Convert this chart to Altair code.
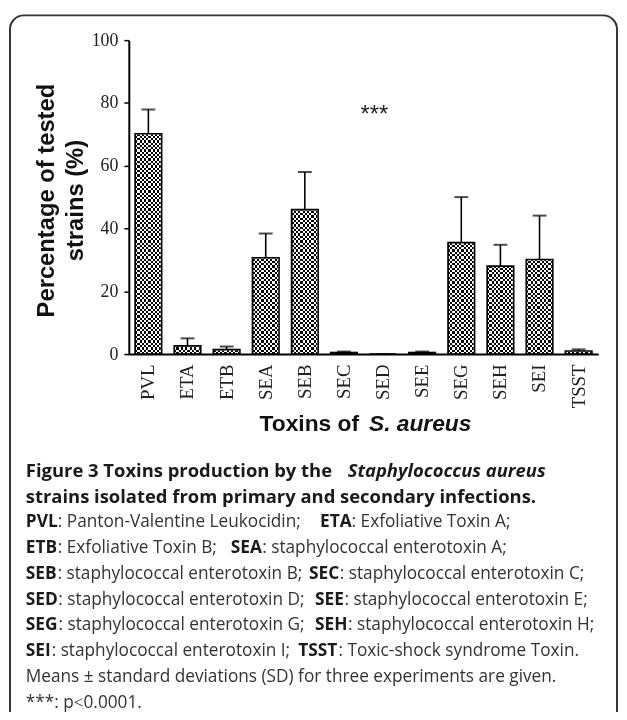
import altair as alt
import pandas as pd

# ---------------- data ----------------
toxins = ["PVL", "ETA", "ETB", "SEA", "SEB", "SEC", "SED", "SEE", "SEG", "SEH", "SEI", "TSST"]
means = [70.2, 2.6, 1.4, 30.7, 46.0, 0.5, 0.0, 0.5, 35.5, 28.0, 30.1, 1.0]
sds = [7.7, 2.4, 1.0, 7.7, 12.0, 0.3, 0.0, 0.3, 14.5, 6.8, 14.0, 0.5]
y_ticks = [0, 20, 40, 60, 80, 100]
y_range = [0, 100]

df = pd.DataFrame({"toxin": toxins, "mean": means, "sd": sds})
df["upper"] = df["mean"] + df["sd"]
df["top"] = y_range[1]
df["zero"] = y_range[0]

# ---------------- layout (plot origin = page (130, 37)) ----------------
OX, OY = 130, 37
W, H = 474, 317


def px(x):
    return x - OX


def py(y):
    return y - OY


def stripes(n, horizontal):
    stops = []
    for i in range(n):
        c = "#000000" if i % 2 == 0 else "#ffffff"
        stops.append(alt.GradientStop(offset=i / n, color=c))
        stops.append(alt.GradientStop(offset=(i + 1) / n, color=c))
    if horizontal:
        return alt.LinearGradient(gradient="linear", stops=stops, x1=0, y1=0, x2=1, y2=0)
    return alt.LinearGradient(gradient="linear", stops=stops, x1=0, y1=0, x2=0, y2=1)


x_enc = alt.X(
    "toxin:N",
    sort=toxins,
    scale=alt.Scale(paddingInner=0.32, paddingOuter=0.16),
    axis=alt.Axis(
        title=None, labelAngle=270, ticks=False, tickSize=0, labelFont="Liberation Serif",
        labelFontSize=19, labelPadding=10, labelColor="#222222", domainColor="black",
        domainWidth=2, zindex=1,
    ),
)
y_axis = alt.Axis(
    values=y_ticks, title=None, grid=False, tickSize=5, tickWidth=1.5, tickColor="black",
    labelFont="Liberation Serif", labelFontSize=18, labelPadding=6, labelColor="#222222",
    domainColor="black", domainWidth=2, zindex=1,
)
y_scale = alt.Scale(domain=y_range, nice=False)

base = alt.Chart(df).encode(x=x_enc)

# checkerboard = vertical stripes XOR horizontal stripes (difference blend)
bars_a = base.mark_bar(fill=stripes(12, True), strokeWidth=0).encode(
    y=alt.Y("mean:Q", scale=y_scale, axis=y_axis)
)
bars_b = base.mark_bar(
    fill=stripes(138, False), strokeWidth=0, blend="difference", width={"band": 0.93}
).encode(
    y=alt.Y("top:Q", scale=y_scale, axis=y_axis), y2=alt.Y2("zero")
)
cover = base.mark_bar(fill="white", stroke="white", strokeWidth=1.5).encode(
    y=alt.Y("top:Q", scale=y_scale, axis=y_axis), y2=alt.Y2("mean")
)
outline = base.mark_bar(fill="white", fillOpacity=0, stroke="black", strokeWidth=1.6).encode(
    y=alt.Y("mean:Q", scale=y_scale, axis=y_axis)
)
err = base.mark_rule(color="black", strokeWidth=1.6).encode(
    y=alt.Y("mean:Q", scale=y_scale, axis=y_axis), y2=alt.Y2("upper")
)
caps = base.mark_tick(color="black", thickness=2, size=14).encode(
    y=alt.Y("upper:Q", scale=y_scale, axis=y_axis)
)

one = pd.DataFrame({"k": [0]})

frame = alt.Chart(one).mark_rect(
    fill="white", fillOpacity=0, stroke="#333333", strokeWidth=2, cornerRadius=14
).encode(
    x=alt.value(px(10)), x2=alt.value(px(623)), y=alt.value(py(12)), y2=alt.value(py(760))
)


def text_at(x, y, txt, **kw):
    return alt.Chart(one).mark_text(**kw).encode(
        x=alt.value(x), y=alt.value(y), text=alt.value(txt)
    )


stars = text_at(px(378), py(120), "***", font="Liberation Sans", fontSize=24,
                color="#222222", align="center", baseline="alphabetic")

ytitle1 = text_at(px(47), py(199), "Percentage of tested", font="Liberation Sans",
                  fontSize=24, fontWeight="bold", angle=270, align="center",
                  baseline="middle", color="#111111")
ytitle2 = text_at(px(77), py(199), "strains (%)", font="Liberation Sans",
                  fontSize=24, fontWeight="bold", angle=270, align="center",
                  baseline="middle", color="#111111")

xtitle1 = text_at(px(262), py(425), "Toxins of", font="Liberation Sans", fontSize=23,
                  fontWeight="bold", align="left", baseline="middle", color="#111111")
xtitle2 = text_at(px(476), py(425), "S. aureus", font="Liberation Sans", fontSize=23,
                  fontWeight="bold", fontStyle="italic", align="right", baseline="middle",
                  color="#111111")

# ---------------- caption ----------------
line_y = [472, 498, 524, 550, 576, 602, 628, 654, 680, 706]
# bold abbreviation followed by its explanation; x = start of the bold word
caption_pairs = [
    (2, 26, "PVL", ": Panton-Valentine Leukocidin;"),
    (2, 323, "ETA", ": Exfoliative Toxin A;"),
    (3, 26, "ETB", ": Exfoliative Toxin B;"),
    (3, 233, "SEA", ": staphylococcal enterotoxin A;"),
    (4, 26, "SEB", ": staphylococcal enterotoxin B;"),
    (4, 312, "SEC", ": staphylococcal enterotoxin C;"),
    (5, 26, "SED", ": staphylococcal enterotoxin D;"),
    (5, 318, "SEE", ": staphylococcal enterotoxin E;"),
    (6, 26, "SEG", ": staphylococcal enterotoxin G;"),
    (6, 318, "SEH", ": staphylococcal enterotoxin H;"),
    (7, 26, "SEI", ": staphylococcal enterotoxin I;"),
    (7, 301, "TSST", ": Toxic-shock syndrome Toxin."),
]
caption_plain = [
    (0, 26, "Figure 3 Toxins production by the", "b"),
    (0, 351, "Staphylococcus aureus", "bi"),
    (1, 26, "strains isolated from primary and secondary infections.", "b"),
    (8, 26, "Means \u00b1 standard deviations (SD) for three experiments are given.", "n"),
    (9, 26, "***: p\u02c20.0001.", "n"),
]

# approximate advance widths (em) of Open Sans Bold capitals, used to butt segments
cap_w = {"A": .675, "B": .69, "C": .635, "D": .737, "E": .564, "G": .745, "H": .767,
         "I": .352, "L": .541, "P": .654, "S": .573, "T": .589, "V": .654}
ABBR_SIZE = 17.5
NORM_SIZE = 17.4
HEAD_SIZE = 18.6

segments = list(caption_plain)
for li, x, abbr, rest in caption_pairs:
    segments.append((li, x, abbr, "ab"))
    wbold = sum(cap_w[c] for c in abbr) * ABBR_SIZE
    segments.append((li, x + wbold, rest, "n"))

cap_layers = []
for li, x, txt, st in segments:
    kw = dict(font="Open Sans", align="left", baseline="middle")
    if st == "b":
        kw.update(fontSize=HEAD_SIZE, fontWeight="bold", color="#1a1a1a")
    elif st == "bi":
        kw.update(fontSize=HEAD_SIZE, fontWeight="bold", fontStyle="italic", color="#1a1a1a")
    elif st == "ab":
        kw.update(fontSize=ABBR_SIZE, fontWeight="bold", color="#1a1a1a")
    else:
        kw.update(fontSize=NORM_SIZE, fontWeight="normal", color="#333333")
    cap_layers.append(text_at(px(x), py(line_y[li]), txt, **kw))

chart = alt.layer(
    frame, bars_a, bars_b, cover, outline, err, caps, stars,
    ytitle1, ytitle2, xtitle1, xtitle2, *cap_layers
).properties(
    width=W, height=H,
    autosize=alt.AutoSizeParams(type="none"),
    padding={"left": OX - 8, "top": OY - 8, "right": 617 - (OX - 8) - W, "bottom": 704 - (OY - 8) - H},
    background="white",
).configure_view(stroke=None)

chart.save("out.html", embed_options={"renderer": "svg", "actions": False})
